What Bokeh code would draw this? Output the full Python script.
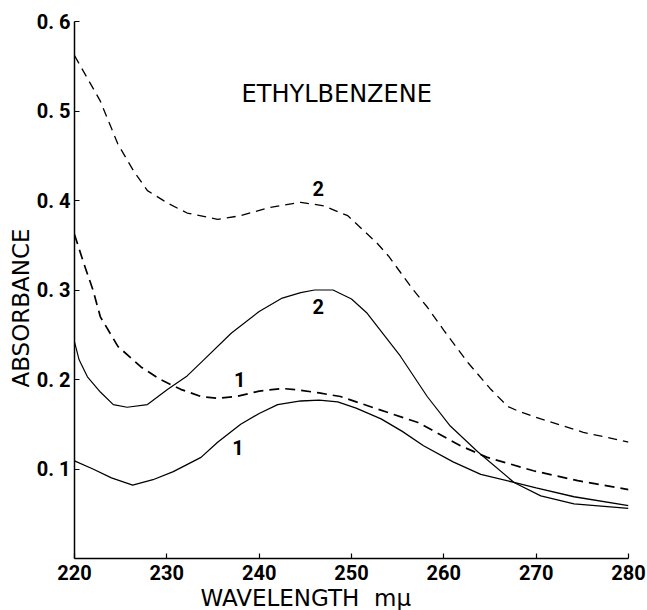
from bokeh.plotting import figure
from bokeh.models import Range1d, FixedTicker, Label, Title
from bokeh.embed import file_html
from bokeh.resources import INLINE

# ---- data ----
x_d2 = [220, 222.8, 224.7, 226.4, 227.9, 230.1, 232.2, 235.5, 238, 241, 244.5, 247, 249.6,
        252.8, 254, 256.7, 258.2, 260, 262.6, 265, 266.9, 268, 270.5, 275.1, 280]
y_d2 = [0.562, 0.511, 0.463, 0.433, 0.411, 0.397, 0.386, 0.379, 0.383, 0.392, 0.398,
        0.394, 0.383, 0.352, 0.338, 0.30, 0.281, 0.255, 0.219, 0.19, 0.170, 0.165, 0.156,
        0.141, 0.130]

x_s2 = [220, 220.5, 221.4, 222.8, 224.2, 225.7, 227.9, 230.1, 232.2, 234, 237, 240, 242.5,
        244.5, 246, 248, 250, 251.7, 255.3, 258.2, 260.7, 263.7, 267.6, 270.5, 274.1, 280]
y_s2 = [0.242, 0.222, 0.203, 0.186, 0.172, 0.169, 0.172, 0.189, 0.204, 0.222, 0.252, 0.276,
        0.291, 0.297, 0.300, 0.300, 0.290, 0.274, 0.226, 0.181, 0.148, 0.119, 0.085, 0.070,
        0.061, 0.056]

x_d1 = [220, 221, 222, 222.8, 224.7, 227.2, 229.3, 231.5, 233.7, 235.5, 237.5, 240, 242.5,
        244.5, 246.5, 248.8, 252.8, 257.2, 261.8, 264.7, 269.7, 274.5, 280]
y_d1 = [0.362, 0.330, 0.300, 0.270, 0.237, 0.214, 0.200, 0.189, 0.181, 0.179, 0.181, 0.187,
        0.190, 0.188, 0.185, 0.181, 0.167, 0.152, 0.126, 0.113, 0.098, 0.087, 0.077]

x_s1 = [220, 222, 224, 226.3, 228.5, 230.7, 233.7, 235.5, 238, 240, 242, 244.5, 246.5, 248.5,
        250.5, 253.2, 255.5, 257.8, 261, 264, 267.6, 270, 274.1, 280]
y_s1 = [0.109, 0.100, 0.090, 0.082, 0.088, 0.097, 0.113, 0.130, 0.150, 0.162, 0.172, 0.176,
        0.177, 0.175, 0.168, 0.156, 0.142, 0.126, 0.108, 0.094, 0.085, 0.079, 0.069, 0.059]

x_ticks = [220, 230, 240, 250, 260, 270, 280]
y_ticks = [0.1, 0.2, 0.3, 0.4, 0.5, 0.6]
y_tick_labels = ["0. 1", "0. 2", "0. 3", "0. 4", "0. 5", "0. 6"]

curve_labels = ["2", "2", "1", "1"]
curve_label_x = [246.4, 246.4, 237.9, 237.7]
curve_label_y = [0.413, 0.282, 0.200, 0.124]

title_text = "ETHYLBENZENE"
x_title = "WAVELENGTH\u00a0\u00a0mμ"
y_title = "ABSORBANCE"

# ---- figure ----
p = figure(width=647, height=610, output_backend="svg", toolbar_location=None,
           x_range=Range1d(220, 280), y_range=Range1d(0.0, 0.6),
           min_border_left=74, min_border_right=19, min_border_top=21, min_border_bottom=52)
p.outline_line_color = None
p.grid.visible = False
p.background_fill_color = "white"
p.border_fill_color = "white"

tick_font = "Roboto"
for ax in (p.xaxis[0], p.yaxis[0]):
    ax.axis_line_color = "black"
    ax.axis_line_width = 1.5
    ax.major_tick_in = 5
    ax.major_tick_out = 0
    ax.minor_tick_line_color = None
    ax.major_tick_line_color = "black"
    ax.major_tick_line_width = 1.2
    ax.major_label_text_font = tick_font
    ax.major_label_text_font_style = "bold"
    ax.major_label_text_font_size = "20px"
    ax.major_label_text_color = "black"

p.xaxis[0].ticker = FixedTicker(ticks=x_ticks)
p.xaxis[0].major_label_standoff = 6
p.yaxis[0].ticker = FixedTicker(ticks=y_ticks)
p.yaxis[0].major_label_overrides = {t: s for t, s in zip(y_ticks, y_tick_labels)}
p.yaxis[0].major_label_standoff = 4

# axis titles as side titles (offset from the frame's left / bottom edge)
p.add_layout(Title(text=x_title, text_font="DejaVu Sans", text_font_size="23px",
                   text_font_style="normal", align="left", offset=126, standoff=0,
                   text_color="black"), "below")
p.add_layout(Title(text=y_title, text_font="DejaVu Sans", text_font_size="23px",
                   text_font_style="normal", align="left", offset=171, standoff=0,
                   text_color="black"), "left")

# curves
p.line(x_d2, y_d2, line_color="black", line_width=1.3, line_dash="9 6")
p.line(x_s2, y_s2, line_color="black", line_width=1.2)
p.line(x_d1, y_d1, line_color="black", line_width=1.7, line_dash="10 6")
p.line(x_s1, y_s1, line_color="black", line_width=1.3)

for t, lx, ly in zip(curve_labels, curve_label_x, curve_label_y):
    p.add_layout(Label(x=lx, y=ly, text=t, text_font=tick_font, text_font_style="bold",
                       text_font_size="20px", text_align="center", text_baseline="middle",
                       text_color="black"))

p.add_layout(Label(x=248.4, y=0.519, text=title_text, text_font="DejaVu Sans",
                   text_font_size="24px", text_align="center", text_baseline="middle",
                   text_color="black"))

open("out.html", "w").write(file_html(p, INLINE))
